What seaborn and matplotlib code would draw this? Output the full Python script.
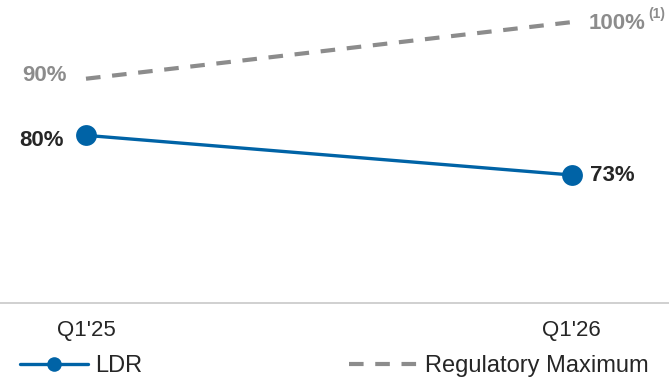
import pandas as pd
import seaborn as sns
import matplotlib.pyplot as plt

# Data
quarters = ["Q1'25", "Q1'26"]
ldr = [80, 73]
reg_max = [90, 100]

BLUE = "#0063A6"
GREY = "#8C8C8C"
DARK = "#262626"

sns.set_theme(style="white")
plt.rcParams["font.family"] = ["Liberation Sans", "DejaVu Sans"]

df = pd.DataFrame({"quarter": quarters, "LDR": ldr, "Regulatory Maximum": reg_max})

fig = plt.figure(figsize=(6.69, 3.8), dpi=100)
ax = fig.add_axes([0, 77 / 380, 1, 303 / 380])

sns.lineplot(data=df, x="quarter", y="Regulatory Maximum", ax=ax, color=GREY,
             linewidth=3, label="Regulatory Maximum")
sns.lineplot(data=df, x="quarter", y="LDR", ax=ax, color=BLUE, linewidth=2.4,
             marker="o", markersize=15, markeredgewidth=0, label="LDR")
ax.lines[0].set_linestyle((0, (3.5, 2.8)))

# Value labels
for i, v in enumerate(ldr):
    if i == 0:
        ax.annotate(f"{v}%", (i, v), xytext=(-16, -4), textcoords="offset points",
                    ha="right", va="center", fontsize=16, fontweight="bold", color=DARK)
    else:
        ax.annotate(f"{v}%", (i, v), xytext=(13, 0), textcoords="offset points",
                    ha="left", va="center", fontsize=16, fontweight="bold", color=DARK)
for i, v in enumerate(reg_max):
    if i == 0:
        ax.annotate(f"{v}%", (i, v), xytext=(-14, 2), textcoords="offset points",
                    ha="right", va="center", fontsize=16, fontweight="bold", color=GREY)
    else:
        ax.annotate(f"{v}%", (i, v), xytext=(12, -1), textcoords="offset points",
                    ha="left", va="center", fontsize=16, fontweight="bold", color=GREY)
        ax.annotate("(1)", (i, v), xytext=(55, 6), textcoords="offset points",
                    ha="left", va="center", fontsize=10, fontweight="bold", color=GREY)

ax.set_xlim(-0.177, 1.2)
ax.set_ylim(50.4, 103.9)
ax.set_xlabel("")
ax.set_ylabel("")
ax.set_yticks([])
ax.tick_params(axis="x", length=0, labelsize=16, labelcolor=DARK, pad=12)
for side in ["top", "left", "right"]:
    ax.spines[side].set_visible(False)
ax.spines["bottom"].set_color("#C8C8C8")
ax.spines["bottom"].set_linewidth(1.2)

ax.get_legend().remove()
handles, labels = ax.get_legend_handles_labels()
order = [labels.index("LDR"), labels.index("Regulatory Maximum")]
fig.legend([handles[k] for k in order], [labels[k] for k in order],
           loc="center left", bbox_to_anchor=(20 / 669, 1 - 366 / 380), ncol=2,
           frameon=False, fontsize=17, handlelength=2.9, handletextpad=0.3,
           columnspacing=8.75, borderpad=0, borderaxespad=0, labelcolor=DARK,
           markerscale=0.7)

fig.savefig("out.png", dpi=100)
